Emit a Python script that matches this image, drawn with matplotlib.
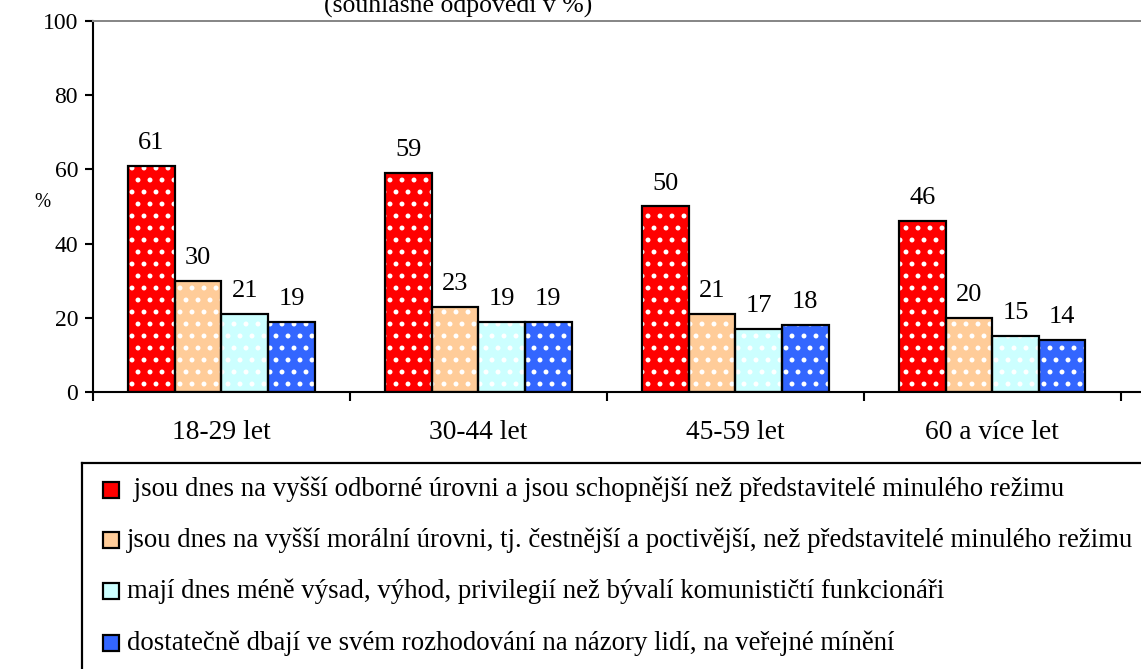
import matplotlib
matplotlib.use("Agg")
import matplotlib.pyplot as plt
import numpy as np
from matplotlib.patches import Rectangle
from matplotlib.lines import Line2D

# at dpi 72 one point is one pixel, so every size below is in pixels
plt.rcParams["font.family"] = ["Liberation Serif", "DejaVu Serif"]
plt.rcParams["hatch.linewidth"] = 2.5

categories = ["18-29 let", "30-44 let", "45-59 let", "60 a více let"]
series_labels = [
    " jsou dnes na vyšší odborné úrovni a jsou schopnější než představitelé minulého režimu",
    "jsou dnes na vyšší morální úrovni, tj. čestnější a poctivější, než představitelé minulého režimu",
    "mají dnes méně výsad, výhod, privilegií než bývalí komunističtí funkcionáři",
    "dostatečně dbají ve svém rozhodování na názory lidí, na veřejné mínění",
]
odborne = [61, 59, 50, 46]
moralni = [30, 23, 21, 20]
vysady = [21, 19, 17, 15]
nazory = [19, 19, 18, 14]
series = [odborne, moralni, vysady, nazory]
colors = ["#FF0000", "#FFCC99", "#CCFFFF", "#3366FF"]

W, H = 1141, 669
fig = plt.figure(figsize=(W / 72, H / 72), dpi=72)
ax = fig.add_axes([93 / W, 1 - 392 / H, (W - 93) / W + 0.01, (392 - 21) / H])

bw = 0.1816
centers = np.arange(len(categories)) + 0.5
for i, (vals, col) in enumerate(zip(series, colors)):
    xs = centers + (i - 1.5) * bw
    ax.bar(xs, vals, width=bw, color=col, edgecolor="white", linewidth=0, hatch=".", zorder=2)
    ax.bar(xs, vals, width=bw, fill=False, edgecolor="black", linewidth=2.2, zorder=3)
    for x, v in zip(xs, vals):
        ax.annotate(f"{v}", (x, v), xytext=(0, 17), textcoords="offset points",
                    ha="center", va="baseline", fontsize=26.4)

ax.set_ylim(0, 100)
ax.set_xlim(0, (W - 93) / 256 + 0.03)
ax.set_yticks([0, 20, 40, 60, 80, 100])
ax.tick_params(axis="y", direction="out", length=8, width=2.1, labelsize=23.6, pad=7)
ax.set_xticks([0, 1, 2, 3, 4])
ax.set_xticklabels([])
ax.set_xticks(centers, minor=True)
ax.set_xticklabels(categories, minor=True, fontsize=27.5)
ax.tick_params(axis="x", which="major", direction="out", length=9, width=2.1)
ax.tick_params(axis="x", which="minor", length=0, pad=28)

ax.spines["right"].set_visible(False)
ax.spines["top"].set_color("#888888")
ax.spines["top"].set_linewidth(2)
ax.spines["left"].set_linewidth(2.1)
ax.spines["bottom"].set_linewidth(2.1)

ax.set_ylabel("%", rotation=0, fontsize=19.5, va="center", ha="center")
ax.yaxis.set_label_coords(-50 / 1048, 0.51)

fig.text(458 / W, 1 - 12.5 / H, "(souhlasné odpovědi v %)", ha="center", va="baseline", fontsize=25.7)

# legend frame (only top and left edges fall inside the picture)
fig.add_artist(Line2D([82 / W, 1.0], [1 - 463 / H] * 2, color="black", lw=2.2, transform=fig.transFigure))
fig.add_artist(Line2D([82 / W] * 2, [1 - 463 / H, 0], color="black", lw=2.2, transform=fig.transFigure))

row_y = [489.5, 540, 591, 643]
for lab, col, ry in zip(series_labels, colors, row_y):
    fig.add_artist(Rectangle((103 / W, 1 - (ry + 8) / H), 16 / W, 16 / H, facecolor=col,
                             edgecolor="black", lw=2.2, transform=fig.transFigure))
    fig.text(127 / W, 1 - ry / H, lab, ha="left", va="center", fontsize=26.7)

fig.savefig("out.png", dpi=72)
